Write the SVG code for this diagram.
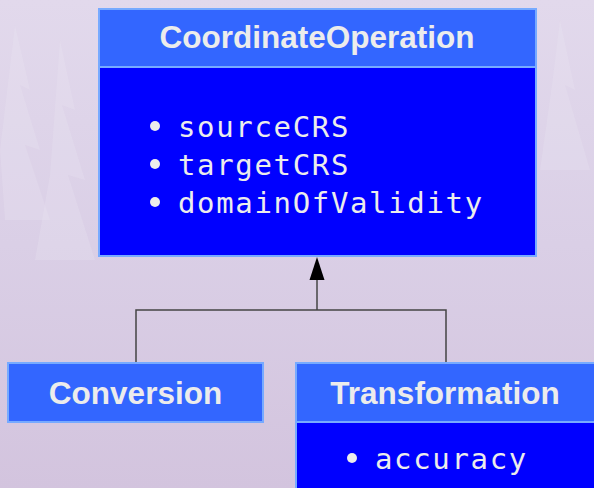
<svg xmlns="http://www.w3.org/2000/svg" width="594" height="488" viewBox="0 0 594 488">
<defs>
<linearGradient id="bg" x1="0" y1="0" x2="0" y2="1">
<stop offset="0" stop-color="#e2d9ec"/>
<stop offset="0.5" stop-color="#dacfe6"/>
<stop offset="1" stop-color="#d3c4de"/>
</linearGradient>
<style>
.hdr{fill:#3366ff;stroke:#77aaff;stroke-width:2}
.body{fill:#0000ff;stroke:#77aaff;stroke-width:2}
.title{font-family:"Liberation Sans",Arial,sans-serif;font-weight:bold;font-size:31.5px;fill:#ececec;text-anchor:middle}
.item{font-family:"DejaVu Sans Mono",monospace;font-size:29px;letter-spacing:1.65px;fill:#ececec}
.dot{fill:#ececec}
.edge{fill:none;stroke:#444;stroke-width:1.5}
.tree{fill:#ece6f2;opacity:0.25}
</style>
</defs>
<rect x="0" y="0" width="594" height="488" fill="url(#bg)"/>
<g id="background-trees">
<path class="tree" d="M15,25 L30,90 L20,85 L40,150 L25,145 L50,220 L5,220 L0,150 Z"/>
<path class="tree" d="M60,40 L75,110 L62,105 L85,180 L68,175 L95,260 L35,260 L50,175 Z"/>
<path class="tree" d="M560,20 L575,90 L565,85 L590,170 L540,170 L552,85 Z"/>
</g>
<g id="connectors">
<path class="edge" d="M136,363 L136,310 L446,310 L446,363"/>
<path class="edge" d="M317,310 L317,280"/>
<path d="M309.5,280 L317,257 L324.5,280 Z" fill="#000"/>
</g>
<g id="CoordinateOperation">
<rect class="body" x="99" y="67" width="437" height="189"/>
<rect class="hdr" x="99" y="9" width="437" height="58"/>
<text class="title" x="317" y="48">CoordinateOperation</text>
<circle class="dot" cx="155" cy="126" r="5"/>
<text class="item" x="178" y="137">sourceCRS</text>
<circle class="dot" cx="155" cy="164" r="5"/>
<text class="item" x="178" y="175">targetCRS</text>
<circle class="dot" cx="155" cy="202" r="5"/>
<text class="item" x="178" y="213">domainOfValidity</text>
</g>
<g id="Conversion">
<rect class="hdr" x="8" y="363" width="255" height="59"/>
<text class="title" x="135.5" y="404">Conversion</text>
</g>
<g id="Transformation">
<rect class="body" x="296" y="422" width="310" height="80"/>
<rect class="hdr" x="296" y="363" width="310" height="59"/>
<text class="title" x="445" y="404">Transformation</text>
<circle class="dot" cx="352" cy="458" r="5"/>
<text class="item" x="375" y="469">accuracy</text>
</g>
</svg>
